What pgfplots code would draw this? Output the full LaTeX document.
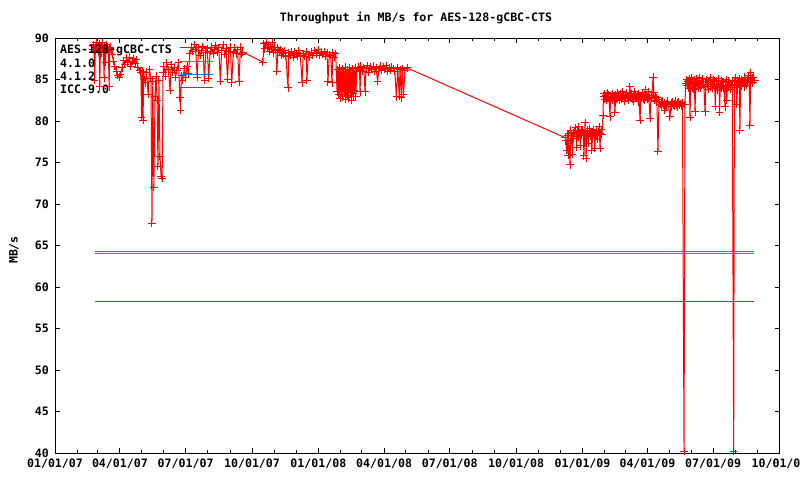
\documentclass[border=0pt]{standalone}
\usepackage{fontspec}
\setmainfont{DejaVu Sans Mono}
\usepackage{pgfplots}
\pgfplotsset{compat=1.18}
\definecolor{gpred}{RGB}{255,0,0}
\definecolor{gpgreen}{RGB}{0,192,0}
\definecolor{gpblue}{RGB}{0,128,255}
\definecolor{gpmag}{RGB}{192,0,255}
\newcommand\gpfont{\fontsize{11.6pt}{13pt}\selectfont\bfseries}
\begin{document}
\begin{tikzpicture}
\useasboundingbox (0pt,0pt) rectangle (800pt,480pt);
\node[font=\gpfont, inner sep=0pt] at (416pt,462pt) {Throughput in MB/s for AES-128-gCBC-CTS};
\node[font=\gpfont, inner sep=0pt, rotate=90] at (14pt,230pt) {MB/s};
\begin{axis}[
  at={(55pt,27pt)}, anchor=south west,
  width=724.5pt, height=415pt, scale only axis,
  xmin=0, xmax=1004, ymin=40, ymax=90,
  xtick={0,90,181,273,365,456,547,639,731,821,912,1004},
  xticklabels={01/01/07,04/01/07,07/01/07,10/01/07,01/01/08,04/01/08,07/01/08,10/01/08,01/01/09,04/01/09,07/01/09,10/01/09},
  minor xtick={31,59,120,151,212,243,304,334,396,425,486,517,578,609,670,700,762,790,851,882,943,974},
  ytick={40,45,...,90},
  tick align=inside, tick pos=both,
  major tick length=5pt, minor tick length=3pt,
  every tick/.style={black, line width=1pt},
  axis line style={line width=1pt},
  tick label style={font=\gpfont, inner sep=0pt},
  xticklabel shift=6pt, yticklabel shift=6pt,
  /pgf/number format/assume math mode=true,
  legend cell align=left,
  legend plot pos=right,
  legend style={at={(0,1)}, anchor=north west, xshift=5pt, yshift=-6pt,
    draw=none, fill=none, inner sep=0pt, font=\gpfont,
    row sep=1.8pt, column sep=8pt,
    nodes={inner sep=0pt, text height=9pt, text depth=2.5pt}},
  legend image code/.code={\draw[#1, mark repeat=2, mark phase=2] plot coordinates {(0pt,2.5pt) (16.5pt,2.5pt) (33pt,2.5pt)};},
]
\addplot[color=gpred, line width=1pt, mark=+, mark size=3.75pt, mark options={line width=1pt}] table {
x y
53 88.6
54 89.2
55 84.9
56 88.9
57 89.5
58 88.7
59 89.1
60 88.4
61 89.3
62 84.1
63 88.8
64 89.0
65 88.2
66 89.4
67 88.6
68 85.2
69 88.9
70 87.1
71 89.2
72 88.5
73 89.0
74 88.3
75 84.1
76 88.7
77 88.9
79 88.0
81 87.2
83 86.6
85 86.0
87 85.5
89 85.3
91 85.6
93 86.4
95 87.3
97 86.8
99 87.6
101 87.0
103 87.7
105 86.6
107 87.2
109 87.5
111 86.9
113 87.4
115 86.5
117 86.1
119 85.9
120 80.4
121 86.0
122 80.1
123 85.8
125 84.6
127 85.9
129 83.2
131 86.2
133 85.1
134.4 67.7
135.5 84.8
137 72.0
138.6 82.9
140 85.4
141.5 82.5
142.7 74.5
144 84.9
145.5 75.7
147 73.3
148.5 73.1
149.7 85.8
151 86.6
153 85.4
155 87.0
157 86.2
159.4 83.7
161 86.8
163 85.9
165 86.5
167 85.3
169 86.1
171 87.0
173.2 82.8
174 81.3
175 85.5
177 84.9
179 86.3
181 85.2
183 86.6
185 85.7
187 88.1
189 88.9
191 88.4
193 89.2
195 88.6
197 85.3
199 88.8
201 87.9
203 88.5
205 89.0
207 84.9
209 88.2
211 88.7
213 85.1
215 88.4
217 88.9
219 88.1
221 88.6
223 89.1
225 88.3
227 88.8
229 84.8
231 88.5
233 89.2
235 88.0
237 88.7
239 85.0
241 88.4
243 88.9
245 84.6
247 88.2
249 88.8
251 88.1
253 88.6
255 84.7
257 88.9
259 88.0
260.5 88.3
288.2 87.1
289.5 89.3
291 88.7
292.5 89.5
294 88.9
295.5 89.2
297 88.4
298.5 89.0
300 88.6
301.5 89.4
303 88.2
304.5 88.9
306 88.5
307.5 86.0
309 88.8
310.5 88.3
312 88.6
313.5 87.9
315 88.4
316.5 88.1
318 88.5
320 87.8
322.9 84.0
324 88.2
326 87.9
328 88.4
330 87.7
332 88.3
334 88.0
336 87.8
338 88.5
340 87.9
342.3 84.6
344 88.1
346 87.8
348 88.4
349.2 84.9
351 88.0
353 87.7
355 88.3
357.5 87.9
360 88.5
363 88.1
365 88.6
367 87.9
369 88.3
371 88.0
373 88.4
375 87.8
377 88.2
378.3 84.7
380 88.0
382 87.9
383.9 84.6
385 88.2
387 87.7
389 88.1
390.8 83.5
392 86.2
393 83.2
394 86.4
395 82.7
396 85.9
397 83.5
398 86.3
399 82.9
400 86.0
401 83.6
402 86.5
403 82.6
404 85.8
405 83.1
406 86.2
407 82.8
408 86.4
409 83.4
410 85.9
411 82.5
412 86.3
413 83.0
414 86.1
415 83.7
416 86.4
417 82.9
418 86.0
420 86.5
422 86.2
422.7 83.5
424 86.6
426 86.0
428 86.4
429.6 83.5
431 86.3
433 86.7
435 85.9
437 86.5
439 86.2
441 86.6
443 86.0
445 86.4
447 84.8
449 86.3
451 86.6
453 86.1
455 86.5
457 86.2
459 86.7
461 86.0
463 86.4
465 86.1
467 86.5
469 86.3
471 86.0
473 82.9
475 86.4
477 83.0
478.1 86.2
480 82.8
481 86.3
483 83.2
485 86.1
487.8 86.4
706.8 78.0
708 77.6
709 76.5
710 78.3
711 75.9
712 78.5
713.7 74.7
715 78.9
716 78.2
717 76.0
718 78.6
719 77.9
720 78.8
721 79.2
722 78.4
723 76.8
724 78.7
725 78.1
726 79.3
727 78.5
728 77.0
729 78.9
730 78.3
731 79.0
732 78.6
733 75.8
734.5 79.8
736 75.5
737 78.4
738 78.9
739 77.3
740 78.5
741 79.1
742 78.2
743 78.7
744 76.5
745 78.4
746 79.0
747 78.1
748.3 76.7
749 78.6
750 78.9
751 78.3
752 77.8
753 78.7
754 79.3
755.3 76.7
756 78.5
757 79.0
758 78.4
759.4 80.7
760 82.9
761 83.3
762 82.6
763 83.1
764 82.5
765 83.4
766 82.8
767 83.2
768 82.4
769.1 80.5
770 83.0
771 82.7
772 83.3
773 82.5
774 83.1
775 82.9
776 81.0
777 83.2
778 82.6
779 83.4
780 82.8
781 83.0
782 82.5
783 83.3
784 82.9
785 82.6
786 83.5
787 82.8
788 83.1
789 82.4
790 83.2
791 82.7
792 83.4
793 82.9
794 83.0
795 82.5
796.8 84.1
798 82.8
799 83.3
800 82.6
801 83.1
802 82.4
803 83.5
804 82.9
805 83.2
806 82.7
807 83.0
808 82.3
809 83.3
810.7 80.1
812 83.1
813 82.8
814 83.4
815 82.6
816 83.0
817 82.5
818 83.8
819 82.9
820 83.2
821 82.6
822 83.5
823 82.8
824.6 80.3
826 83.1
827 82.7
828.7 85.3
830 83.4
831 82.5
832 83.0
833 82.3
834 82.8
835.6 76.3
837 82.6
838.4 82.0
840 82.3
841 81.8
842 82.4
843 81.9
844 82.2
845.3 81.3
847 82.1
848 81.8
849 82.4
850 82.0
852.2 80.5
854 82.2
855 81.7
856 82.3
857 81.9
858 82.1
859 81.8
860 82.4
861 81.9
862 82.2
863 81.7
864 82.3
865 82.0
866 81.9
867 82.1
868 81.8
869.5 82.2
871.7 40.2
873 82.0
874 84.5
875 85.0
876 84.3
877 84.8
878 83.9
879 85.1
880 80.4
881 84.6
882 85.2
883 84.0
884 84.7
885 83.8
886 85.0
886.9 81.1
888 84.4
889 85.1
890 84.2
891 84.9
892 83.9
893 85.2
894 84.5
895 84.0
896 84.8
897 85.1
898 84.3
899 84.7
900.8 81.1
902 84.2
903 85.0
904 84.4
905 83.8
906 84.9
907.7 85.2
909 84.1
910 84.6
911 83.9
912 85.0
913 84.3
914 84.8
915 81.8
916 84.2
917 84.9
918 83.7
919 84.4
920 85.1
921 81.0
922 84.5
923 84.0
924 84.9
925 84.2
926 84.7
927 83.9
928.5 81.7
929 84.6
930 85.0
931 82.5
932 84.3
933 84.8
934 84.1
935 84.6
936 83.8
937 84.4
938.5 84.9
940.5 40.2
941.5 84.0
942 84.8
943 85.2
944 84.3
945 82.0
946 84.9
947 84.4
948 85.1
949.2 78.9
950 84.6
951 84.2
952 85.0
953 84.5
954 84.9
955 84.1
956 85.3
957 84.7
958 84.3
959 85.0
960 84.6
961 85.5
962 84.8
963.1 79.5
964 85.8
965 84.9
966 85.2
967 84.6
968 85.3
969 84.9
970 84.9
};
\addlegendentry{AES-128-gCBC-CTS}
\addplot[color=gpgreen, line width=1pt] table {
x y
55 64.05
968.7 64.05
};
\addlegendentry{4.1.0}
\addplot[color=gpblue, line width=1pt] table {
x y
55 64.3
968.7 64.3
};
\addlegendentry{4.1.2}
\addplot[color=gpmag, line width=1pt] table {
x y
55 58.3
968.7 58.3
};
\addlegendentry{ICC-9.0}
\end{axis}
\end{tikzpicture}
\end{document}
